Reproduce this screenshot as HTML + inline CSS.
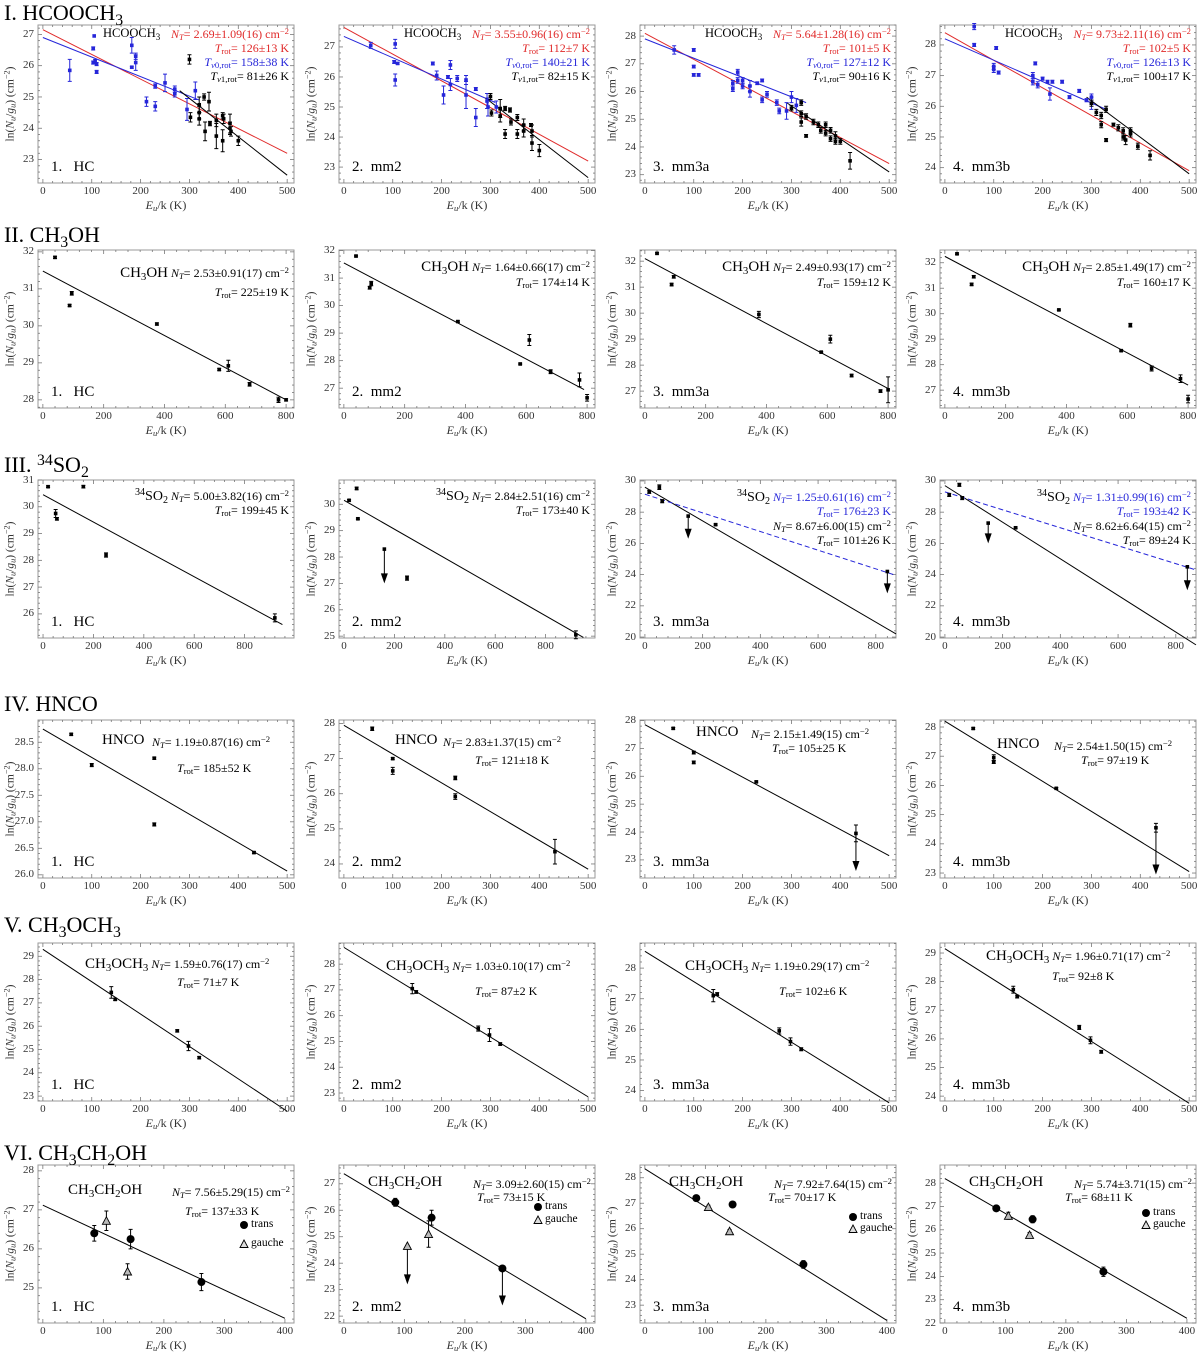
<!DOCTYPE html>
<html><head><meta charset="utf-8">
<style>
body{margin:0;background:#fff;}
#fig{position:relative;width:1200px;height:1357px;background:#fff;overflow:hidden;font-family:"Liberation Serif",serif;color:#000;}
#fig svg{position:absolute;left:0;top:0;}
.t{position:absolute;white-space:nowrap;line-height:1;font-family:"Liberation Serif",serif;}
.t sub,.t sup{font-size:72%;line-height:0;position:relative;vertical-align:baseline;}
.t sub{top:0.3em;} .t sup{top:-0.45em;}
</style></head>
<body>
<div id="fig">
<svg id="plot" width="1200" height="1357"></svg>
</div>
<script>
// ===== DATA =====
const r1BlueE=[[55,103,105,103,107,110,110,182,182,190,190,212,230,230,250,270,270,295,312],[55,103,105,105,110,182,190,213,218,218,204,232,250,250,270,270,293,295,312],[60,100,100,100,110,180,180,190,190,200,200,215,215,230,240,240,250,270,275,290,300,310],[60,60,100,100,105,110,180,180,185,190,200,210,215,220,240,255,275,290,300,300]];
const r1BlueN=[[25.85,26.55,26.95,26.1,26.15,26.05,25.8,26.65,25.95,26.3,26.1,24.85,25.35,24.7,25.45,25.25,25.1,24.6,25.2],[27.05,26.5,27.1,25.9,26.45,26.45,26.05,26.0,26.4,25.75,25.4,25.95,25.9,25.4,25.6,24.65,25.2,25.0,25.0],[27.5,27.5,26.9,26.6,26.6,26.3,26.1,26.7,26.4,26.4,26.2,26.2,26.0,26.3,25.7,26.4,25.9,25.6,25.3,25.3,25.8,25.5],[28.6,28.0,27.3,27.2,27.9,27.1,27.0,26.8,27.4,26.7,26.9,26.8,26.4,26.8,26.8,26.3,26.5,26.2,26.1,26.3]];
const r1BlueErr=[[0.35,0.05,0,0.05,0.05,0.05,0.05,0.25,0.03,0.1,0.25,0.15,0.07,0.15,0.28,0.1,0.1,0.35,0.28],[0.1,0.05,0.15,0.2,0.03,0.05,0.15,0.05,0.15,0.2,0.3,0.1,0.15,0.45,0.05,0.3,0.25,0.3,0.2],[0.15,0.05,0.05,0.05,0.05,0.1,0.1,0.1,0.1,0.1,0.1,0.2,0.2,0.05,0.1,0.05,0.1,0.1,0.1,0.3,0.2,0.25],[0.1,0.05,0.1,0.1,0.05,0.05,0.1,0.1,0.05,0.1,0.05,0.05,0.2,0.05,0.05,0.05,0.05,0.05,0.2,0.1]];
const r1BlackE=[[300,302,320,320,320,330,332,340,342,355,355,368,368,370,383,383,385,400],[300,302,320,320,330,330,340,342,355,355,368,368,383,385,385,400],[300,320,320,320,330,330,345,355,360,370,370,380,380,390,390,400,420],[300,310,320,320,330,330,345,355,365,365,370,380,380,395,420]];
const r1BlackN=[[26.2,24.35,24.75,24.5,24.3,25.0,23.9,24.85,24.15,23.75,24.25,24.4,23.6,24.3,24.15,24.0,23.9,23.6],[25.35,24.8,24.95,24.7,24.95,24.1,24.9,24.5,24.65,24.1,24.4,24.2,24.4,23.8,24.2,23.55],[25.4,25.2,25.6,24.9,25.1,24.4,24.9,24.8,24.6,24.8,24.5,24.3,24.6,24.4,24.2,24.2,23.5],[26.1,25.8,25.4,25.7,24.9,25.9,25.4,25.3,25.0,25.2,24.9,25.2,25.1,24.7,24.4]];
const r1BlackErr=[[0.15,0.15,0.25,0.2,0.2,0.1,0.3,0.3,0.07,0.4,0.2,0.1,0.35,0.15,0.3,0.2,0.15,0.15],[0.1,0.1,0.3,0.2,0.07,0.15,0.07,0.1,0.1,0.15,0.2,0.2,0.05,0.25,0.2,0.2],[0.1,0.1,0.1,0.15,0.1,0.05,0.1,0.1,0.1,0.1,0.1,0.1,0.1,0.15,0.1,0.1,0.3],[0.1,0.1,0.1,0.1,0.05,0.1,0.05,0.1,0.1,0.1,0.15,0.1,0.1,0.1,0.15]];
const r1RedFit=[[0,27.15,500,23.2],[0,27.65,500,23.2],[0,28.1,500,23.4],[0,28.4,500,23.9]];
const r1BlueFit=[[0,26.9,320,24.9],[0,27.35,310,25.15],[0,27.9,330,25.6],[0,28.2,330,25.9]];
const r1BlackFit=[[280,25.2,500,22.5],[290,25.3,500,22.65],[290,25.6,500,23.1],[290,26.3,500,23.8]];
const r2E=[[40,88,95,375,580,610,680,775,800],[40,85,90,375,580,610,680,775,800],[40,88,95,375,580,610,680,775,800],[40,88,95,375,580,610,680,775,800]];
const r2N=[[31.85,30.55,30.88,30.05,28.82,28.92,28.42,28.0,28.0],[31.8,30.65,30.8,29.42,27.88,28.75,27.6,27.3,26.65],[32.3,31.1,31.4,29.95,28.5,29.0,27.6,27.0,27.05],[32.35,31.15,31.45,30.15,28.55,29.55,27.85,27.45,26.65]];
const r2Err=[[0.03,0.03,0.05,0.03,0.03,0.15,0.05,0.07,0.03],[0.03,0.05,0.08,0.03,0.03,0.2,0.07,0.25,0.12],[0.03,0.05,0.05,0.12,0.03,0.15,0.05,0.05,0.5],[0.03,0.05,0.05,0.03,0.03,0.07,0.1,0.15,0.15]];
const r2Lim=[[],[],[],[]];
const r2Fit=[[0,31.48,800,28.0],[0,31.55,790,26.95],[0,32.1,800,27.1],[0,32.25,800,27.2]];
const r3E=[[20,50,55,160,250,920],[20,50,55,160,250,920],[15,50,60,150,245,840],[15,50,60,150,245,840]];
const r3N=[[30.75,29.75,29.55,30.75,28.2,25.85],[30.15,30.6,29.45,28.3,27.2,25.05],[29.3,29.6,28.7,27.75,27.2,24.2],[29.1,29.75,28.9,27.3,27.0,24.5]];
const r3Err=[[0.03,0.15,0.05,0.05,0.08,0.15],[0.03,0.05,0.03,0,0.08,0.15],[0.1,0.15,0.1,0,0.05,0],[0.1,0.1,0.1,0,0.05,0]];
const r3Lim=[[null,null,null,null,null,null],[null,null,null,27.0,null,null],[null,null,null,26.3,null,22.8],[null,null,null,26.0,null,23.0]];
const r3Fit=[[0,30.45,950,25.6],[0,30.15,950,24.95],[0,29.6,870,20.2],[0,29.7,870,19.5]];
const r3DashFit=[null,null,[0,29.15,870,23.95],[0,29.3,870,24.3]];
const r4E=[[58,100,228,228,432],[58,100,100,228,228,432],[58,100,100,228,432],[58,100,100,228,432]];
const r4N=[[28.65,28.07,28.2,26.95,26.42],[27.85,27.0,26.65,26.45,25.92,24.35],[27.72,26.85,26.5,25.8,23.95],[27.95,26.95,26.8,25.9,24.55]];
const r4Err=[[0.02,0.03,0.02,0.03,0.02],[0.05,0.03,0.1,0.05,0.08,0.35],[0.03,0.05,0.05,0.03,0.3],[0.03,0.1,0.05,0.03,0.15]];
const r4Lim=[[],[],[null,null,null,null,22.6],[null,null,null,null,22.95]];
const r4Fit=[[0,28.75,500,26.07],[0,27.95,500,23.85],[0,27.85,500,23.15],[0,28.2,500,23.05]];
const r5E=[[140,148,275,298,320],[140,148,275,298,320],[140,148,275,298,320],[140,148,275,298,320]];
const r5N=[[27.45,27.15,25.8,25.15,24.65],[27.05,26.92,25.5,25.25,24.9],[27.1,27.15,25.95,25.6,25.35],[27.72,27.48,26.4,25.95,25.55]];
const r5Err=[[0.25,0.05,0.05,0.2,0.05],[0.2,0.05,0.1,0.25,0.05],[0.2,0.05,0.1,0.12,0.05],[0.12,0.05,0.07,0.12,0.05]];
const r5Lim=[[],[],[],[]];
const r5Fit=[[0,29.3,500,22.35],[0,28.65,500,22.85],[0,28.55,500,23.6],[0,29.15,500,23.75]];
const r6TransE=[85,145,262];
const r6GaucheE=[105,140];
const r6TransN=[[26.4,26.25,25.15],[26.3,25.72,23.8],[27.2,26.95,24.6],[26.92,26.45,24.2]];
const r6TransErr=[[0.2,0.25,0.22],[0.15,0.28,0],[0.05,0.07,0.15],[0.1,0.15,0.2]];
const r6TransLim=[[],[null,null,22.4],[],[]];
const r6GaucheN=[[26.72,25.42],[24.65,25.1],[26.85,25.9],[26.6,25.78]];
const r6GaucheErr=[[0.25,0.2],[0,0.5],[0.07,0.07],[0.15,0.1]];
const r6GaucheLim=[[],[23.2,null],[],[]];
const r6Fit=[[0,27.12,400,24.22],[0,27.38,400,21.9],[0,28.35,400,22.4],[0,28.2,400,22.2]];
const xTickSets=[[0,100,200,300,400,500],[0,200,400,600,800],[0,200,400,600,800],[0,100,200,300,400,500],[0,100,200,300,400,500],[0,100,200,300,400]];
const yDoms=[[[22.25,27.3],[22.47,27.73],[22.7,28.4],[23.5,28.65]],[[27.78,32.05],[26.28,32.02],[26.35,32.43],[26.3,32.5]],[[25.1,31.0],[24.93,30.92],[19.94,30.06],[19.94,30.06]],[[25.94,28.92],[23.6,28.1],[22.35,28.02],[22.83,28.24]],[[22.79,29.57],[22.69,28.82],[23.66,28.82],[23.83,29.35]],[[24.1,28.15],[21.74,27.71],[22.3,28.5],[22.0,28.78]]];
const xDoms=[[[-10,514],[-10,514],[-10,514],[-10,514]],[[-16,826],[-16,826],[-16,826],[-16,826]],[[-20,996],[-20,996],[-17,870],[-17,870]],[[-10,514],[-10,514],[-10,514],[-10,514]],[[-10,514],[-10,514],[-10,514],[-10,514]],[[-8,415],[-8,415],[-8,415],[-8,415]]];
const yStep=[[1,1,1,1],[1,1,1,1],[1,1,2,2],[0.5,1,1,1],[1,1,1,1],[1,1,1,1]];

// ===== LAYOUT =====
const rowsTop=[25,250,480,720,943,1165];
const colsLeft=[38,339,640,940];
const FW=256, FH=158;
const NS='http://www.w3.org/2000/svg';
const svg=document.getElementById('plot');
const fig=document.getElementById('fig');
const BLUE='#2626d9', RED='#e02a2a';

function P(r,c){return {r:r,c:c,L:colsLeft[c],T:rowsTop[r],x0:xDoms[r][c][0],x1:xDoms[r][c][1],y0:yDoms[r][c][0],y1:yDoms[r][c][1]};}
function sx(p,v){return p.L+(v-p.x0)/(p.x1-p.x0)*FW;}
function sy(p,v){return p.T+(p.y1-v)/(p.y1-p.y0)*FH;}

function sv(tag,attrs){const e=document.createElementNS(NS,tag);for(const k in attrs)e.setAttribute(k,attrs[k]);svg.appendChild(e);return e;}
function txt(html,x,y,anchor,color,size,name){
  const d=document.createElement('div');
  d.className='t';
  d.innerHTML=html;
  d.style.fontSize=size+'px';
  d.style.color=color||'#000';
  d.style.top=(y-size*0.86)+'px';
  if(anchor==='end'){d.style.right=(1200-x)+'px';}
  else if(anchor==='middle'){d.style.left=x+'px';d.style.transform='translateX(-50%)';}
  else{d.style.left=x+'px';}
  
  
  fig.appendChild(d);
  return d;
}

function drawFrame(p,xt){
  const g=sv('rect',{x:p.L,y:p.T,width:FW,height:FH,fill:'none',stroke:'#9a9a9a','stroke-width':1});
  
  
  const B=p.T+FH, R=p.L+FW;
  const xs=xt[1]-xt[0];
  for(let v=xt[0]-xs;v<=p.x1;v+=xs/5){
    if(v<p.x0)continue;
    const X=sx(p,v);
    const major=Math.abs(((v-xt[0])/xs)-Math.round((v-xt[0])/xs))<1e-6;
    const l=major?4:2;
    const a=sv('line',{x1:X,y1:B,x2:X,y2:B-l,stroke:'#777','stroke-width':0.8});
    
    
    const b=sv('line',{x1:X,y1:p.T,x2:X,y2:p.T+l,stroke:'#777','stroke-width':0.8});
    
    
  }
  xt.forEach(v=>{
    txt(String(v),sx(p,v),B+12,'middle','#333',11,'x-tick-label');
  });
  const st=yStep[p.r][p.c];
  const start=Math.floor(p.y0/st)*st;
  for(let v=start;v<=p.y1+1e-6;v+=st/5){
    if(v<p.y0)continue;
    const Y=sy(p,v);
    const k=(v-start)/st;
    const major=Math.abs(k-Math.round(k))<1e-6;
    const l=major?4:2;
    const a=sv('line',{x1:p.L,y1:Y,x2:p.L+l,y2:Y,stroke:'#777','stroke-width':0.8});
    
    
    const b=sv('line',{x1:R,y1:Y,x2:R-l,y2:Y,stroke:'#777','stroke-width':0.8});
    
    
  }
  for(let v=Math.ceil((p.y0-1e-6)/st)*st;v<=p.y1+0.05;v+=st){
    const lab=st<1?v.toFixed(1):String(Math.round(v));
    txt(lab,p.L-4,sy(p,v)+4,'end','#333',11,'y-tick-label');
  }
  txt('<i>E<sub>u</sub></i>/k (K)',p.L+FW/2,B+26,'middle','#333',12,'x-axis-title');
  const yl=document.createElement('div');
  yl.className='t';
  yl.innerHTML='ln(<i>N<sub>u</sub></i>/<i>g<sub>u</sub></i>) (cm<sup>−2</sup>)';
  yl.style.fontSize='11.5px';
  yl.style.color='#333';
  yl.style.left=(p.L-27)+'px';
  yl.style.top=(p.T+FH/2)+'px';
  yl.style.transform='translate(-50%,-50%) rotate(-90deg)';
  
  
  fig.appendChild(yl);
}

function fitLine(p,f,color,dash,name){
  const a={x1:sx(p,f[0]),y1:sy(p,f[1]),x2:sx(p,f[2]),y2:sy(p,f[3]),stroke:color,'stroke-width':1};
  if(dash)a['stroke-dasharray']='5,3';
  const l=sv('line',a);
  
  
}

function point(p,E,N,err,lim,color,shape){
  const X=sx(p,E), Y=sy(p,N);
  if(err>0){
    const ya=sy(p,N+err), yb=sy(p,N-err);
    const e=sv('path',{d:`M${X},${ya}V${yb}M${X-2},${ya}H${X+2}M${X-2},${yb}H${X+2}`,stroke:color,'stroke-width':1,fill:'none'});
    
    
  }
  if(lim!=null&&lim!==undefined){
    const yl=sy(p,lim);
    const a=sv('path',{d:`M${X},${Y}V${yl-8}`,stroke:color,'stroke-width':1});
    
    
    const h=sv('polygon',{points:`${X-3.5},${yl-10} ${X+3.5},${yl-10} ${X},${yl}`,fill:color});
    
    
  }
  let m;
  if(shape==='circ'){m=sv('circle',{cx:X,cy:Y,r:4,fill:'#000'});}
  else if(shape==='tri'){m=sv('polygon',{points:`${X-4},${Y+3.5} ${X+4},${Y+3.5} ${X},${Y-4}`,fill:'#bbb',stroke:'#000','stroke-width':0.9});}
  else{m=sv('rect',{x:X-1.8,y:Y-1.8,width:3.6,height:3.6,fill:color});}
  
  
}

function series(p,Es,Ns,Errs,Lims,color,shape){
  for(let i=0;i<Es.length;i++)point(p,Es[i],Ns[i],Errs[i]||0,Lims?Lims[i]:null,color,shape);
}

const NT=s=>`<i>N<sub>T</sub></i>= ${s} cm<sup>−2</sup>`;
const TR=s=>`<i>T</i><sub>rot</sub>= ${s} K`;
const srcLab=['1.&nbsp;&nbsp;&nbsp;HC','2.&nbsp;&nbsp;mm2','3.&nbsp;&nbsp;mm3a','4.&nbsp;&nbsp;mm3b'];

const titles=['I. HCOOCH<sub>3</sub>','II. CH<sub>3</sub>OH','III. <sup>34</sup>SO<sub>2</sub>','IV. HNCO','V. CH<sub>3</sub>OCH<sub>3</sub>','VI. CH<sub>3</sub>CH<sub>2</sub>OH'];
const titleBase=[21,243,473,712,933,1161];
titles.forEach((t,i)=>txt(t,4,titleBase[i],'start','#000',22,'row-title'));

for(let r=0;r<6;r++)for(let c=0;c<4;c++){
  const p=P(r,c);
  drawFrame(p,xTickSets[r]);
  txt(srcLab[c],p.L+13,p.T+FH-10,'start','#000',15,'source-label');
}

const r1NT=['2.69±1.09(16)','3.55±0.96(16)','5.64±1.28(16)','9.73±2.11(16)'];
const r1Tr=['126±13','112±7','101±5','102±5'];
const r1Tv0=['158±38','140±21','127±12','126±13'];
const r1Tv1=['81±26','82±15','90±16','100±17'];
for(let c=0;c<4;c++){
  const p=P(0,c);
  fitLine(p,r1RedFit[c],RED,false,'fit-line-all');
  fitLine(p,r1BlueFit[c],BLUE,false,'fit-line-v0');
  fitLine(p,r1BlackFit[c],'#000',false,'fit-line-v1');
  series(p,r1BlueE[c],r1BlueN[c],r1BlueErr[c],null,BLUE,'sq');
  series(p,r1BlackE[c],r1BlackN[c],r1BlackErr[c],null,'#000','sq');
  const R=p.L+FW-5;
  txt('HCOOCH<sub>3</sub>',p.L+65,p.T+13,'start','#000',12.5,'molecule-label');
  txt(NT(r1NT[c]),R,p.T+13,'end',RED,12,'nt-annotation');
  txt(TR(r1Tr[c]),R,p.T+27,'end',RED,12,'trot-annotation');
  txt(`<i>T</i><sub><i>v</i>0,rot</sub>= ${r1Tv0[c]} K`,R,p.T+41,'end',BLUE,12,'tv0-annotation');
  txt(`<i>T</i><sub><i>v</i>1,rot</sub>= ${r1Tv1[c]} K`,R,p.T+55,'end','#000',12,'tv1-annotation');
}
const r2NT=['2.53±0.91(17)','1.64±0.66(17)','2.49±0.93(17)','2.85±1.49(17)'];
const r2Tr=['225±19','174±14','159±12','160±17'];
for(let c=0;c<4;c++){
  const p=P(1,c);
  fitLine(p,r2Fit[c],'#000',false,'fit-line');
  series(p,r2E[c],r2N[c],r2Err[c],r2Lim[c],'#000','sq');
  const R=p.L+FW-5;
  const b1=c===0?26:20, b2=c===0?46:36;
  txt('<span style="font-size:15px">CH<sub>3</sub>OH</span> '+NT(r2NT[c]),R,p.T+b1,'end','#000',12,'molecule-annotation');
  txt(TR(r2Tr[c]),R,p.T+b2,'end','#000',12,'trot-annotation');
}
const r3NT=['5.00±3.82(16)','2.84±2.51(16)','8.67±6.00(15)','8.62±6.64(15)'];
const r3Tr=['199±45','173±40','101±26','89±24'];
const r3NTb=[null,null,'1.25±0.61(16)','1.31±0.99(16)'];
const r3Trb=[null,null,'176±23','193±42'];
for(let c=0;c<4;c++){
  const p=P(2,c);
  fitLine(p,r3Fit[c],'#000',false,'fit-line');
  if(r3DashFit[c])fitLine(p,r3DashFit[c],BLUE,true,'fit-line-dashed');
  series(p,r3E[c],r3N[c],r3Err[c],r3Lim[c],'#000','sq');
  const R=p.L+FW-5;
  const so='<span style="font-size:14px;color:#000"><sup>34</sup>SO<sub>2</sub></span> ';
  if(c<2){
    txt(so+NT(r3NT[c]),R,p.T+20,'end','#000',12,'molecule-annotation');
    txt(TR(r3Tr[c]),R,p.T+34,'end','#000',12,'trot-annotation');
  }else{
    txt(so+NT(r3NTb[c]),R,p.T+21,'end',BLUE,12,'nt-annotation-blue');
    txt(TR(r3Trb[c]),R,p.T+35,'end',BLUE,12,'trot-annotation-blue');
    txt(NT(r3NT[c]),R,p.T+50,'end','#000',12,'nt-annotation');
    txt(TR(r3Tr[c]),R,p.T+64,'end','#000',12,'trot-annotation');
  }
}
const r4NT=['1.19±0.87(16)','2.83±1.37(15)','2.15±1.49(15)','2.54±1.50(15)'];
const r4Tr=['185±52','121±18','105±25','97±19'];
const r4Pos=[[64,114,26,139,52],[56,104,26,136,44],[56,111,18,132,32],[57,114,30,141,44]];
for(let c=0;c<4;c++){
  const p=P(3,c);
  fitLine(p,r4Fit[c],'#000',false,'fit-line');
  series(p,r4E[c],r4N[c],r4Err[c],r4Lim[c],'#000','sq');
  const q=r4Pos[c];
  txt('HNCO',p.L+q[0],p.T+q[2],'start','#000',15,'molecule-label');
  txt(NT(r4NT[c]),p.L+q[1],p.T+q[2],'start','#000',12,'nt-annotation');
  txt(TR(r4Tr[c]),p.L+q[3],p.T+q[4],'start','#000',12,'trot-annotation');
}
const r5NT=['1.59±0.76(17)','1.03±0.10(17)','1.19±0.29(17)','1.96±0.71(17)'];
const r5Tr=['71±7','87±2','102±6','92±8'];
const r5Pos=[[47,24,139,43],[47,26,136,52],[45,26,139,52],[46,16,112,37]];
for(let c=0;c<4;c++){
  const p=P(4,c);
  fitLine(p,r5Fit[c],'#000',false,'fit-line');
  series(p,r5E[c],r5N[c],r5Err[c],r5Lim[c],'#000','sq');
  const q=r5Pos[c];
  txt('<span style="font-size:15px">CH<sub>3</sub>OCH<sub>3</sub></span> '+NT(r5NT[c]),p.L+q[0],p.T+q[1],'start','#000',12,'molecule-annotation');
  txt(TR(r5Tr[c]),p.L+q[2],p.T+q[3],'start','#000',12,'trot-annotation');
}
const r6NT=['7.56±5.29(15)','3.09±2.60(15)','7.92±7.64(15)','5.74±3.71(15)'];
const r6Tr=['137±33','73±15','70±17','68±11'];
const r6Pos=[[30,31,147,50,206,64,83],[29,23,138,36,199,46,59],[29,23,128,36,213,56,68],[29,23,125,36,206,52,64]];
for(let c=0;c<4;c++){
  const p=P(5,c);
  fitLine(p,r6Fit[c],'#000',false,'fit-line');
  series(p,r6GaucheE,r6GaucheN[c],r6GaucheErr[c],r6GaucheLim[c],'#000','tri');
  series(p,r6TransE,r6TransN[c],r6TransErr[c],r6TransLim[c],'#000','circ');
  const q=r6Pos[c];
  txt('CH<sub>3</sub>CH<sub>2</sub>OH',p.L+q[0],p.T+q[1],'start','#000',15,'molecule-label');
  txt(NT(r6NT[c]),p.L+FW-4,p.T+q[1],'end','#000',12,'nt-annotation');
  txt(TR(r6Tr[c]),p.L+q[2],p.T+q[3],'start','#000',12,'trot-annotation');
  const d=sv('circle',{cx:p.L+q[4],cy:p.T+q[5]-4,r:4,fill:'#000'});
  
  
  txt('trans',p.L+q[4]+7,p.T+q[5],'start','#000',11.5,'legend-trans-label');
  const X=p.L+q[4], Y=p.T+q[6]-4;
  const t=sv('polygon',{points:`${X-4},${Y+3.5} ${X+4},${Y+3.5} ${X},${Y-4}`,fill:'#ddd',stroke:'#000','stroke-width':0.9});
  
  
  txt('gauche',p.L+q[4]+7,p.T+q[6],'start','#000',11.5,'legend-gauche-label');
}
</script>
</body></html>
